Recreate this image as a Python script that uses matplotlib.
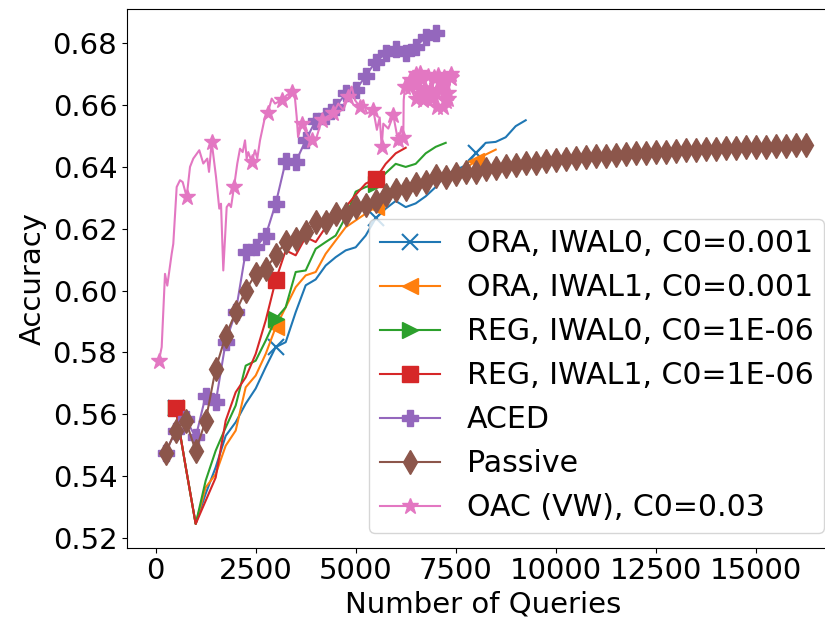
import matplotlib
matplotlib.use("Agg")
import matplotlib.pyplot as plt

# IWAL runs share a query grid with a 250 step
iwal_x = [500 + 250 * i for i in range(36)]

ora_iwal0 = [0.562, 0.543, 0.5245, 0.5343, 0.5428, 0.553, 0.5574, 0.5634, 0.5683, 0.5752,
             0.5817, 0.5833, 0.593, 0.6017, 0.6036, 0.6081, 0.6108, 0.613, 0.614, 0.6178,
             0.6234, 0.6265, 0.629, 0.627, 0.6282, 0.6305, 0.6335, 0.6375, 0.639, 0.6405,
             0.6444, 0.6478, 0.6481, 0.6496, 0.6532, 0.6551]
ora_iwal1 = [0.562, 0.543, 0.5245, 0.5363, 0.5406, 0.5498, 0.5547, 0.5687, 0.5725, 0.5795,
             0.5881, 0.5946, 0.6011, 0.6049, 0.606, 0.6119, 0.6162, 0.6205, 0.6227, 0.6249,
             0.627, 0.629, 0.631, 0.632, 0.633, 0.635, 0.636, 0.637, 0.638, 0.6395,
             0.642, 0.644, 0.6456]
reg_iwal0 = [0.562, 0.543, 0.5245, 0.5385, 0.5482, 0.5557, 0.5628, 0.5757, 0.5773, 0.5838,
             0.5908, 0.5946, 0.606, 0.6065, 0.6135, 0.6157, 0.6178, 0.6238, 0.632, 0.6335,
             0.6345, 0.638, 0.641, 0.640, 0.641, 0.6444, 0.6465, 0.6478]
reg_iwal1 = [0.562, 0.543, 0.5245, 0.532, 0.5395, 0.5579, 0.5671, 0.5719, 0.5795, 0.5903,
             0.6033, 0.613, 0.6114, 0.6173, 0.6157, 0.6205, 0.6235, 0.627, 0.631, 0.6346,
             0.6362, 0.641, 0.6444, 0.6462]

aced_x = [250 * i for i in range(1, 29)]
aced = [0.5476, 0.5547, 0.5585, 0.5525, 0.566, 0.5638, 0.5833, 0.593, 0.6125, 0.6141,
        0.6178, 0.6281, 0.6418, 0.6416, 0.6486, 0.655, 0.6565, 0.6594, 0.6638, 0.6648,
        0.6695, 0.674, 0.6767, 0.6783, 0.6767, 0.6789, 0.682, 0.6832]

passive_x = [250 * i for i in range(1, 66)]
passive = [0.5476, 0.5547, 0.5579, 0.5482, 0.5579, 0.5747, 0.5854, 0.593, 0.600, 0.6054,
           0.607, 0.6114, 0.6157, 0.6168, 0.619, 0.6222, 0.6222, 0.6249, 0.6249, 0.627,
           0.6276, 0.629, 0.631, 0.6325, 0.633, 0.6345, 0.635, 0.637, 0.6368, 0.6378,
           0.6382, 0.6385, 0.6392, 0.6395, 0.6402, 0.6405, 0.6412, 0.6414, 0.642, 0.6422,
           0.6427, 0.6428, 0.6431, 0.6434, 0.6436, 0.644, 0.6442, 0.6444, 0.6446, 0.6447,
           0.6449, 0.6452, 0.6454, 0.6455, 0.6457, 0.6458, 0.646, 0.6462, 0.6463, 0.6465,
           0.6466, 0.6468, 0.6469, 0.647, 0.6472]

oac_x = [82, 150, 233, 290, 400, 440, 525, 608, 675, 775,
         858, 940, 1090, 1190, 1290, 1333, 1400, 1508, 1590, 1633,
         1690, 1775, 1833, 1883, 1958, 2040, 2108, 2175, 2233, 2275,
         2315, 2400, 2483, 2540, 2608, 2733, 2800, 2900, 2983, 3150,
         3275, 3400, 3483, 3525, 3560, 3650, 3775, 3900, 4025, 4150,
         4275, 4435, 4565, 4690, 4815, 4900, 4983, 5108, 5190, 5275,
         5440, 5530, 5600, 5650, 5690, 5815, 5940, 6025, 6065, 6150,
         6190, 6200, 6233, 6300, 6358, 6440, 6525, 6600, 6690, 6750,
         6858, 6900, 7025, 7080, 7190, 7250, 7300, 7358, 7100, 6950,
         6800, 6650, 6500, 6350, 6500, 6700, 6900, 7100, 7300, 7380,
         7200, 7000, 6800, 6600, 6400, 6600, 6850, 7050, 7250, 7380]
oac = [0.5773, 0.5817, 0.6054, 0.6016, 0.6119, 0.6151, 0.6335, 0.6357, 0.6351, 0.6303,
       0.640, 0.6427, 0.6454, 0.6411, 0.6427, 0.6384, 0.6481, 0.6368, 0.6265, 0.6281,
       0.6065, 0.627, 0.6281, 0.627, 0.6335, 0.6411, 0.6459, 0.6448, 0.6486, 0.6427,
       0.6448, 0.6416, 0.6454, 0.6427, 0.6486, 0.6562, 0.6573, 0.6621, 0.6605, 0.6616,
       0.6632, 0.6643, 0.6621, 0.6562, 0.6497, 0.654, 0.6508, 0.6486, 0.6497, 0.6551,
       0.6562, 0.6573, 0.6605, 0.6584, 0.6627, 0.666, 0.6616, 0.6594, 0.6616, 0.6573,
       0.6584, 0.652, 0.656, 0.6465, 0.654, 0.6524, 0.6567, 0.6508, 0.6486, 0.653,
       0.6492, 0.6616, 0.666, 0.664, 0.6681, 0.6638, 0.667, 0.663, 0.6616, 0.6665,
       0.6627, 0.668, 0.6594, 0.669, 0.6594, 0.670, 0.664, 0.6692, 0.665, 0.669,
       0.664, 0.6685, 0.662, 0.666, 0.670, 0.665, 0.662, 0.668, 0.662, 0.670,
       0.669, 0.664, 0.6695, 0.6635, 0.6675, 0.6705, 0.6645, 0.6698, 0.6612, 0.6688]
oac_stars = [0, 9, 16, 24, 31, 36, 39, 41, 45, 47, 49, 51, 54, 57, 60, 63, 66, 68, 70,
             72, 74, 76, 78, 80, 82, 84, 86, 87, 88, 89, 90, 91, 92, 93, 94, 95, 96, 97,
             98, 99, 100, 101, 102, 103, 104, 105, 106, 107, 108, 109]

fig = plt.figure(figsize=(8.25, 6.26), dpi=100)
ax = fig.add_axes([127 / 825, 78.3 / 626, 712 / 825, 538.4 / 626])

fs = 21
ms = 11
lw = 1.5
ax.plot(iwal_x[:len(ora_iwal0)], ora_iwal0, marker='x', ms=ms, mew=1.5, lw=lw, markevery=10,
        color='tab:blue', label='ORA, IWAL0, C0=0.001')
ax.plot(iwal_x[:len(ora_iwal1)], ora_iwal1, marker='<', ms=ms, lw=lw, markevery=10,
        color='tab:orange', label='ORA, IWAL1, C0=0.001')
ax.plot(iwal_x[:len(reg_iwal0)], reg_iwal0, marker='>', ms=ms, lw=lw, markevery=10,
        color='tab:green', label='REG, IWAL0, C0=1E-06')
ax.plot(iwal_x[:len(reg_iwal1)], reg_iwal1, marker='s', ms=ms, lw=lw, markevery=10,
        color='tab:red', label='REG, IWAL1, C0=1E-06')
ax.plot(aced_x, aced, marker='P', ms=ms, lw=lw, color='tab:purple', label='ACED')
ax.plot(passive_x, passive, marker='d', ms=12.5, lw=lw, color='tab:brown', label='Passive')
ax.plot(oac_x, oac, marker='*', ms=ms + 1, lw=lw, markevery=oac_stars,
        color='tab:pink', label='OAC (VW), C0=0.03')

ax.set_xlim(-717, 17082)
ax.set_ylim(0.5168, 0.691)
ax.set_xticks([0, 2500, 5000, 7500, 10000, 12500, 15000])
ax.set_yticks([0.52, 0.54, 0.56, 0.58, 0.60, 0.62, 0.64, 0.66, 0.68])
ax.tick_params(labelsize=fs)
ax.set_xlabel('Number of Queries', fontsize=fs)
ax.set_ylabel('Accuracy', fontsize=fs)
ax.legend(loc='lower right', fontsize=21.6, borderpad=0.35, handletextpad=0.9)

fig.savefig('out.png', dpi=100)
